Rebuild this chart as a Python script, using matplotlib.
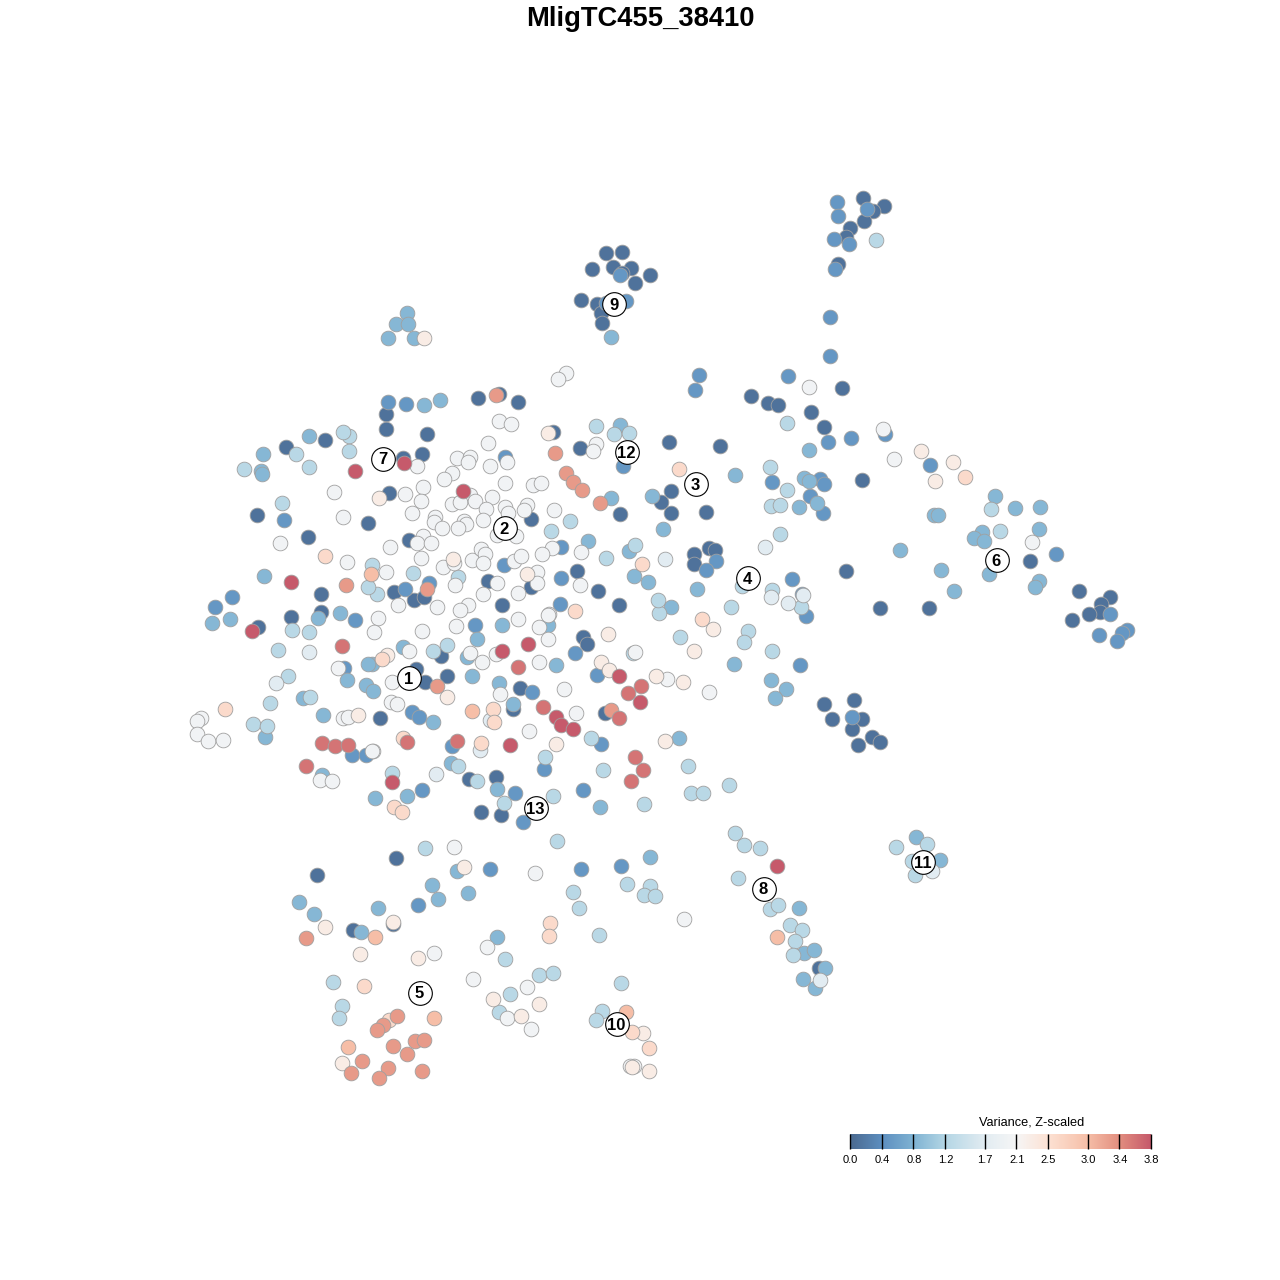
import numpy as np
import matplotlib
matplotlib.use("Agg")
import matplotlib.pyplot as plt
from matplotlib.colors import LinearSegmentedColormap, Normalize

plt.rcParams['font.family'] = ['Liberation Sans', 'DejaVu Sans']

title = "MligTC455_38410"
legend_title = "Variance, Z-scaled"
tick_values = [0.0, 0.4, 0.8, 1.2, 1.7, 2.1, 2.5, 3.0, 3.4, 3.8]
tick_labels = ["0.0", "0.4", "0.8", "1.2", "1.7", "2.1", "2.5", "3.0", "3.4", "3.8"]
tick_colors = ["#4b6a90", "#5d8fc0", "#7fb3d3", "#b4d6e5", "#e2ecf2", "#f6f6f6",
               "#fde2d4", "#f6bfa8", "#e38f80", "#c65a6b"]

# t-SNE embedding positions of cells, grouped by variance level
v_01 = [(863,198),(884,206),(873,211),(864,221),(850,228),(846,237),(838,264),(842,388),(751,396),(768,403),(778,405),(811,412),(824,427),(862,480),(846,571),(880,608),(929,608),
 (1030,561),(1079,591),(1110,597),(1101,604),(1100,612),(1089,614),(1072,620),(606,253),(622,252),(592,269),(613,267),(631,268),(622,273),(650,275),(635,283),(581,300),(597,304),(601,313),(602,323),
 (499,394),(478,398),(518,402),(386,414),(386,429),(427,434),(553,432),(580,448),(669,442),(720,446),(620,514),(661,502),(671,491),(671,513),(706,512),(325,440),(286,447),(403,458),(422,454),
 (389,493),(531,519),(409,540),(531,587),(577,571),(598,591),(619,605),(502,605),(488,581),(394,592),(414,600),(424,597),(583,637),(587,644),(441,656),(416,669),(425,682),(447,676),(520,688),(605,713),(513,709),
 (469,779),(496,777),(380,718),(481,812),(501,815),(257,515),(368,523),(308,537),(321,594),(258,627),(291,617),(321,612),(694,554),(694,564),(709,548),(715,550),(824,704),(854,700),(832,719),(862,719),(852,729),(872,737),(880,742),(858,745),
 (396,858),(317,875),(393,924),(353,930),(819,968)]
v_05 = [(837,202),(867,209),(838,216),(834,239),(849,244),(835,269),(830,317),(830,356),(788,376),(699,375),(695,390),(828,442),(851,438),(885,434),(930,465),(772,482),(820,479),(824,484),(810,496),(823,513),(792,579),(802,594),(806,616),
 (1056,554),(1110,614),(1127,630),(1122,633),(1117,641),(1099,635),(620,275),(606,303),(626,301),(388,402),(406,404),(623,466),(505,457),(561,547),(504,565),(561,578),(560,604),(429,583),(405,589),(475,625),(575,653),(597,675),(532,692),(601,744),(452,746),(544,769),(583,790),(515,793),(412,712),(419,717),(422,790),(523,822),
 (284,520),(232,597),(215,607),(355,620),(344,668),(352,755),(366,755),(716,561),(706,570),(800,665),(852,717),(490,869),(581,869),(621,866),(418,905)]
v_09 = [(809,450),(735,475),(804,478),(809,481),(817,503),(799,507),(900,550),(941,570),(954,591),(995,496),(1015,508),(1040,507),(1039,529),(982,532),(974,538),(984,541),(934,515),(938,515),(989,574),(1039,581),(1035,587),
 (611,337),(407,313),(396,324),(408,324),(388,338),(414,338),(440,400),(620,425),(611,498),(652,496),(663,529),(588,541),(629,551),(634,576),(648,582),(309,436),(263,454),(261,471),(262,474),
 (477,639),(502,625),(548,625),(403,647),(372,664),(467,657),(556,665),(472,676),(499,683),(513,704),(433,722),(451,763),(497,789),(407,796),(375,798),(600,807),
 (264,576),(212,623),(230,619),(318,618),(340,613),(347,680),(368,664),(366,685),(373,691),(303,698),(323,715),(265,737),(322,775),(697,589),(671,607),(734,664),(771,680),(786,689),(775,698),(679,738),
 (916,837),(940,860),(799,908),(804,953),(814,950),(825,968),(803,979),(815,988),(457,871),(650,857),(432,885),(438,899),(468,893),(299,902),(314,914),(378,908),(361,932),(497,937),(424,405)]
v_13 = [(876,240),(787,423),(770,467),(787,490),(771,506),(780,505),(780,534),(772,590),(801,607),(991,509),(1000,531),(596,426),(614,434),(629,433),(551,531),(570,521),(606,558),(635,545),(413,573),(458,577),(372,565),(377,594),(368,587),
 (659,613),(433,651),(447,645),(633,653),(591,738),(545,757),(603,770),(553,796),(644,804),(504,803),(477,781),(458,766),(392,773),(349,436),(343,432),(296,454),(349,451),(244,469),(309,467),(282,503),(292,630),(309,632),(278,650),(288,676),(310,697),(270,703),(253,724),(267,726),
 (658,600),(731,607),(742,586),(748,631),(744,642),(680,637),(772,651),(688,766),(691,793),(703,793),(729,785),(735,833),(744,845),(760,848),(738,878),(927,844),(896,847),(912,861),(915,875),(770,909),(778,905),(790,925),(802,930),(795,941),(793,955),
 (557,841),(425,848),(627,884),(650,886),(644,895),(655,896),(573,892),(579,908),(599,935),(505,959),(539,975),(553,973),(621,983),(333,982),(342,1006),(339,1018),(510,994),(499,1012),(602,1011),(596,1020)]
v_17 = [(765,547),(771,597),(788,603),(803,595),(665,559),(490,720),(480,750),(436,774),(309,652),(276,683),(932,871),(820,980)]
v_20 = [(566,373),(558,379),(499,421),(511,424),(488,443),(596,444),(593,451),(457,458),(470,457),(468,462),(490,466),(507,462),(452,473),(444,479),(505,483),(533,485),(541,483),(423,487),(405,494),(417,466),
 (470,495),(421,501),(452,504),(460,502),(475,501),(492,497),(505,507),(486,509),(508,513),(527,505),(524,510),(554,510),(412,513),(435,517),(434,522),(442,528),(464,521),(466,524),(458,528),(483,520),(497,535),(516,536),(552,548),(542,554),(581,552),
 (423,536),(417,543),(431,543),(390,547),(421,558),(443,567),(454,563),(472,560),(481,549),(485,554),(483,563),(514,561),(521,556),(537,572),(537,583),(580,585),(549,614),(518,593),(497,583),(483,594),(468,605),(460,610),(455,585),(437,607),(386,572),(398,605),(378,618),(374,632),
 (456,626),(422,631),(518,619),(539,627),(548,615),(548,639),(496,654),(635,652),(409,651),(470,653),(482,662),(539,662),(667,679),(392,682),(500,694),(564,689),(576,713),(529,731),(391,702),(397,704),(373,751),
 (334,492),(343,517),(280,543),(347,562),(338,668),(343,718),(348,717),(201,718),(197,721),(197,734),(208,741),(223,740),(372,751),(320,780),(332,781),(709,692),(883,429),(809,387),(894,459),(1032,542),
 (454,847),(535,873),(684,919),(434,953),(487,947),(473,979),(527,987),(507,1018),(531,1029),(634,1066),(630,1066)]
v_23 = [(424,338),(548,433),(379,498),(453,559),(527,574),(608,634),(387,655),(601,662),(609,670),(656,676),(447,697),(556,744),(665,741),(683,682),(713,629),(694,651),(358,715),(921,451),(953,462),(935,481),
 (464,867),(325,927),(360,954),(418,958),(493,999),(539,1004),(521,1016),(643,1033),(649,1071),(632,1067),(342,1063),(393,922)]
v_26 = [(679,469),(642,564),(575,611),(382,659),(493,709),(494,722),(481,743),(403,738),(394,807),(402,812),(325,556),(225,709),(702,619),(965,477),(550,923),(549,936),(364,986),(389,1020),(632,1032),(649,1048)]
v_30 = [(371,574),(472,711),(777,937),(375,937),(434,1018),(348,1047),(626,1012)]
v_33 = [(496,395),(555,453),(566,473),(573,482),(582,490),(600,503),(427,589),(437,686),(611,710),(346,585),(306,938),(397,1016),(383,1025),(377,1030),(393,1046),(415,1041),(424,1040),(407,1054),(362,1061),(351,1073),(388,1068),(379,1078),(422,1071)]
v_36 = [(518,667),(543,707),(641,686),(628,693),(619,718),(635,757),(643,770),(631,781),(457,741),(407,742),(342,646),(322,743),(335,746),(348,745),(306,766)]
v_38 = [(404,463),(355,471),(463,491),(528,644),(502,651),(619,676),(640,702),(556,717),(561,725),(573,729),(510,745),(392,782),(291,582),(252,631),(777,866)]

groups = [(0.1, v_01), (0.5, v_05), (0.85, v_09), (1.25, v_13), (1.7, v_17), (2.0, v_20),
          (2.3, v_23), (2.6, v_26), (3.0, v_30), (3.3, v_33), (3.6, v_36), (3.8, v_38)]

cluster_ids = ["1", "2", "3", "4", "5", "6", "7", "8", "9", "10", "11", "12", "13"]
cluster_x = [408, 504, 695, 747, 419, 996, 382, 763, 613, 616, 922, 626, 535]
cluster_y = [677, 527, 483, 577, 992, 559, 458, 888, 303, 1023, 861, 451, 807]

norm = Normalize(0, 3.8)
cmap = LinearSegmentedColormap.from_list(
    "var", [(v / 3.8, c) for v, c in zip(tick_values, tick_colors)])

fig = plt.figure(figsize=(12.8, 12.8), dpi=100)
ax = fig.add_axes([0, 0, 1, 1])
ax.set_xlim(-0.5, 1279.5)
ax.set_ylim(1279.5, -0.5)
ax.axis("off")

for value, pts in groups:
    arr = np.array(pts)
    ax.scatter(arr[:, 0], arr[:, 1], c=[value] * len(arr), cmap=cmap, norm=norm,
               s=112, edgecolors="#a0a0a0", linewidths=0.6, zorder=2)

ax.scatter(cluster_x, cluster_y, s=290, c="white", edgecolors="black",
           linewidths=0.8, zorder=5)
for label, x, y in zip(cluster_ids, cluster_x, cluster_y):
    ax.text(x, y, label, ha="center", va="center_baseline", fontsize=12,
            fontweight="bold", color="black", zorder=6)

fig.text(640.5 / 1280, 1 - 19.5 / 1280, title, ha="center", va="center",
         fontsize=19.7, fontweight="bold", color="black")

# colour key
cax = fig.add_axes([850 / 1280, 1 - 1149 / 1280, 301 / 1280, 15 / 1280])
grad = np.linspace(0, 3.8, 512).reshape(1, -1)
cax.imshow(grad, aspect="auto", cmap=cmap, norm=norm, extent=[0, 3.8, 0, 1])
for s in cax.spines.values():
    s.set_visible(False)
cax.set_yticks([])
cax.set_xticks([])
cax.vlines(tick_values, 0, 1, color="black", linewidth=1.0, clip_on=False)
for v, lab in zip(tick_values, tick_labels):
    cax.text(v + 0.006, -0.42, lab, ha="center", va="top", fontsize=8, color="black", clip_on=False)
fig.text(1031.5 / 1280, 1 - 1122.5 / 1280, legend_title, ha="center", va="center",
         fontsize=9.2, color="black")

fig.savefig("out.png", dpi=100, facecolor="white")
